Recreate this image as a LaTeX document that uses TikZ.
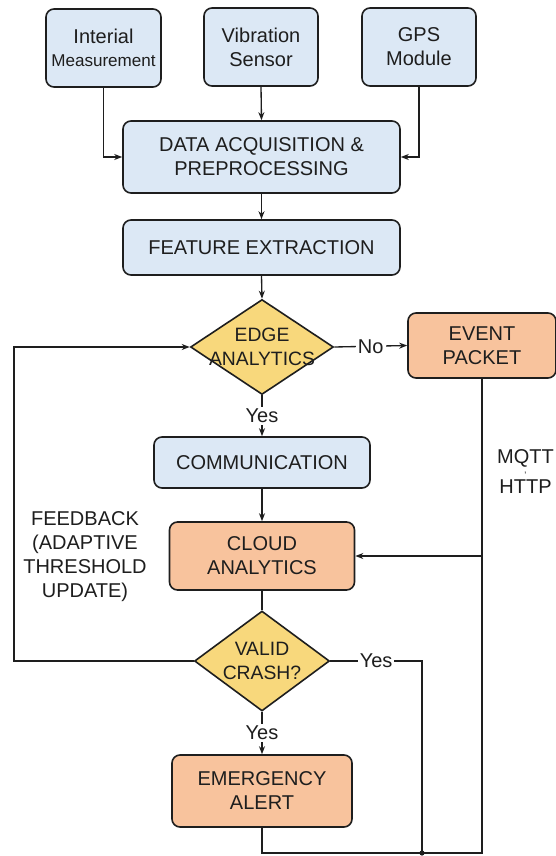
\documentclass[tikz,border=0pt]{standalone}
\usepackage{fontspec}
\setmainfont{Liberation Sans}
\usetikzlibrary{shapes.geometric,arrows.meta}
\definecolor{boxblue}{HTML}{DCE8F5}
\definecolor{boxorange}{HTML}{F8C39D}
\definecolor{decyellow}{HTML}{F8D87C}
\definecolor{ink}{HTML}{1E1E1E}
\begin{document}
\begin{tikzpicture}[x=0.75pt,y=-0.75pt,
  txt/.style={font=\fontsize{15}{18}\selectfont, text=ink},
  proc/.style={txt, draw=ink, line width=1.2pt, rounded corners=6pt,
    fill=boxblue, align=center, inner sep=0pt},
  hot/.style={proc, fill=boxorange},
  dec/.style={draw=ink, line width=1.2pt, diamond, fill=decyellow, inner sep=0pt},
  sz/.style 2 args={minimum width=#1*0.75pt, minimum height=#2*0.75pt},
  link/.style={draw=ink, line width=1pt},
  flow/.style={link, -{Stealth[length=6pt,width=4.5pt]}},
  lbl/.style={txt, fill=white, inner sep=1.5pt},
  dectext/.style={txt, font=\fontsize{14.5}{17.5}\selectfont, align=center}]

\useasboundingbox (0,0) rectangle (556,856);
\fill[white] (0,0) rectangle (556,856);

% sensors
\node[proc, sz={115}{78}] (imu) at (103.5,48) {Interial\\[-1pt]{\fontsize{12.8}{14}\selectfont Measurement}};
\node[proc, sz={114}{78}] (vib) at (261,47) {Vibration\\Sensor};
\node[proc, sz={114}{78}] (gps) at (419,47) {GPS\\Module};

% processing chain
\node[proc, sz={277}{72}] (daq) at (261.5,157) {DATA ACQUISITION \&\\PREPROCESSING};
\node[proc, sz={277}{55}] (feat) at (261.5,247.5) {FEATURE EXTRACTION};
\node[dec, sz={143}{95}, label={[dectext]center:{EDGE\\ANALYTICS}}] (edge) at (262,347) {};
\node[hot, sz={148}{65}] (evt) at (482,345.5) {EVENT\\PACKET};
\node[proc, sz={216}{51}] (comm) at (262,462.5) {COMMUNICATION};
\node[hot, sz={185}{68}] (cloud) at (262,556) {CLOUD\\ANALYTICS};
\node[dec, sz={135}{100}, label={[dectext]center:{VALID\\CRASH?}}] (valid) at (262,661) {};
\node[hot, sz={180}{72}] (alert) at (262,791) {EMERGENCY\\ALERT};

% free texts
\node[txt, align=center] (fbtext) at (85,557) {FEEDBACK\\(ADAPTIVE\\THRESHOLD\\UPDATE)};
\node[txt, align=center, font=\fontsize{15}{11.25}\selectfont] (proto) at (525.5,472)
  {MQTT\\{\fontsize{7}{8}\selectfont '}\\HTTP};

% routing points
\coordinate (fbBot) at (14,661);
\coordinate (fbTop) at (14,347);
\coordinate (yesTurn) at (422,661);
\coordinate (join) at (422,853);
\coordinate (corner) at (evt.south |- join);
\coordinate (tap) at (evt.south |- cloud.east);

% connectors
\draw[flow] (imu.south) |- (daq.west);
\draw[flow] (vib.south) -- (daq.north);
\draw[flow] (gps.south) |- (daq.east);
\draw[flow] (daq.south) -- (feat.north);
\draw[flow] (feat.south) -- (edge.north);
\draw[flow] (edge.east) -- node[lbl]{No} (evt.west);
\draw[flow] (edge.south) -- node[lbl]{Yes} (comm.north);
\draw[flow] (comm.south) -- (cloud.north);
\draw[link] (cloud.south) -- (valid.north);
\draw[flow] (valid.south) -- node[lbl]{Yes} (alert.north);
\draw[flow] (valid.west) -- (fbBot) -- (fbTop) -- (edge.west);
\draw[link] (valid.east) -- node[lbl]{Yes} (yesTurn) -- (join);
\draw[link] (alert.south) |- (corner) -- (evt.south);
\draw[flow] (tap) -- (cloud.east);
\fill[ink] (join) circle (2.6);
\end{tikzpicture}
\end{document}
